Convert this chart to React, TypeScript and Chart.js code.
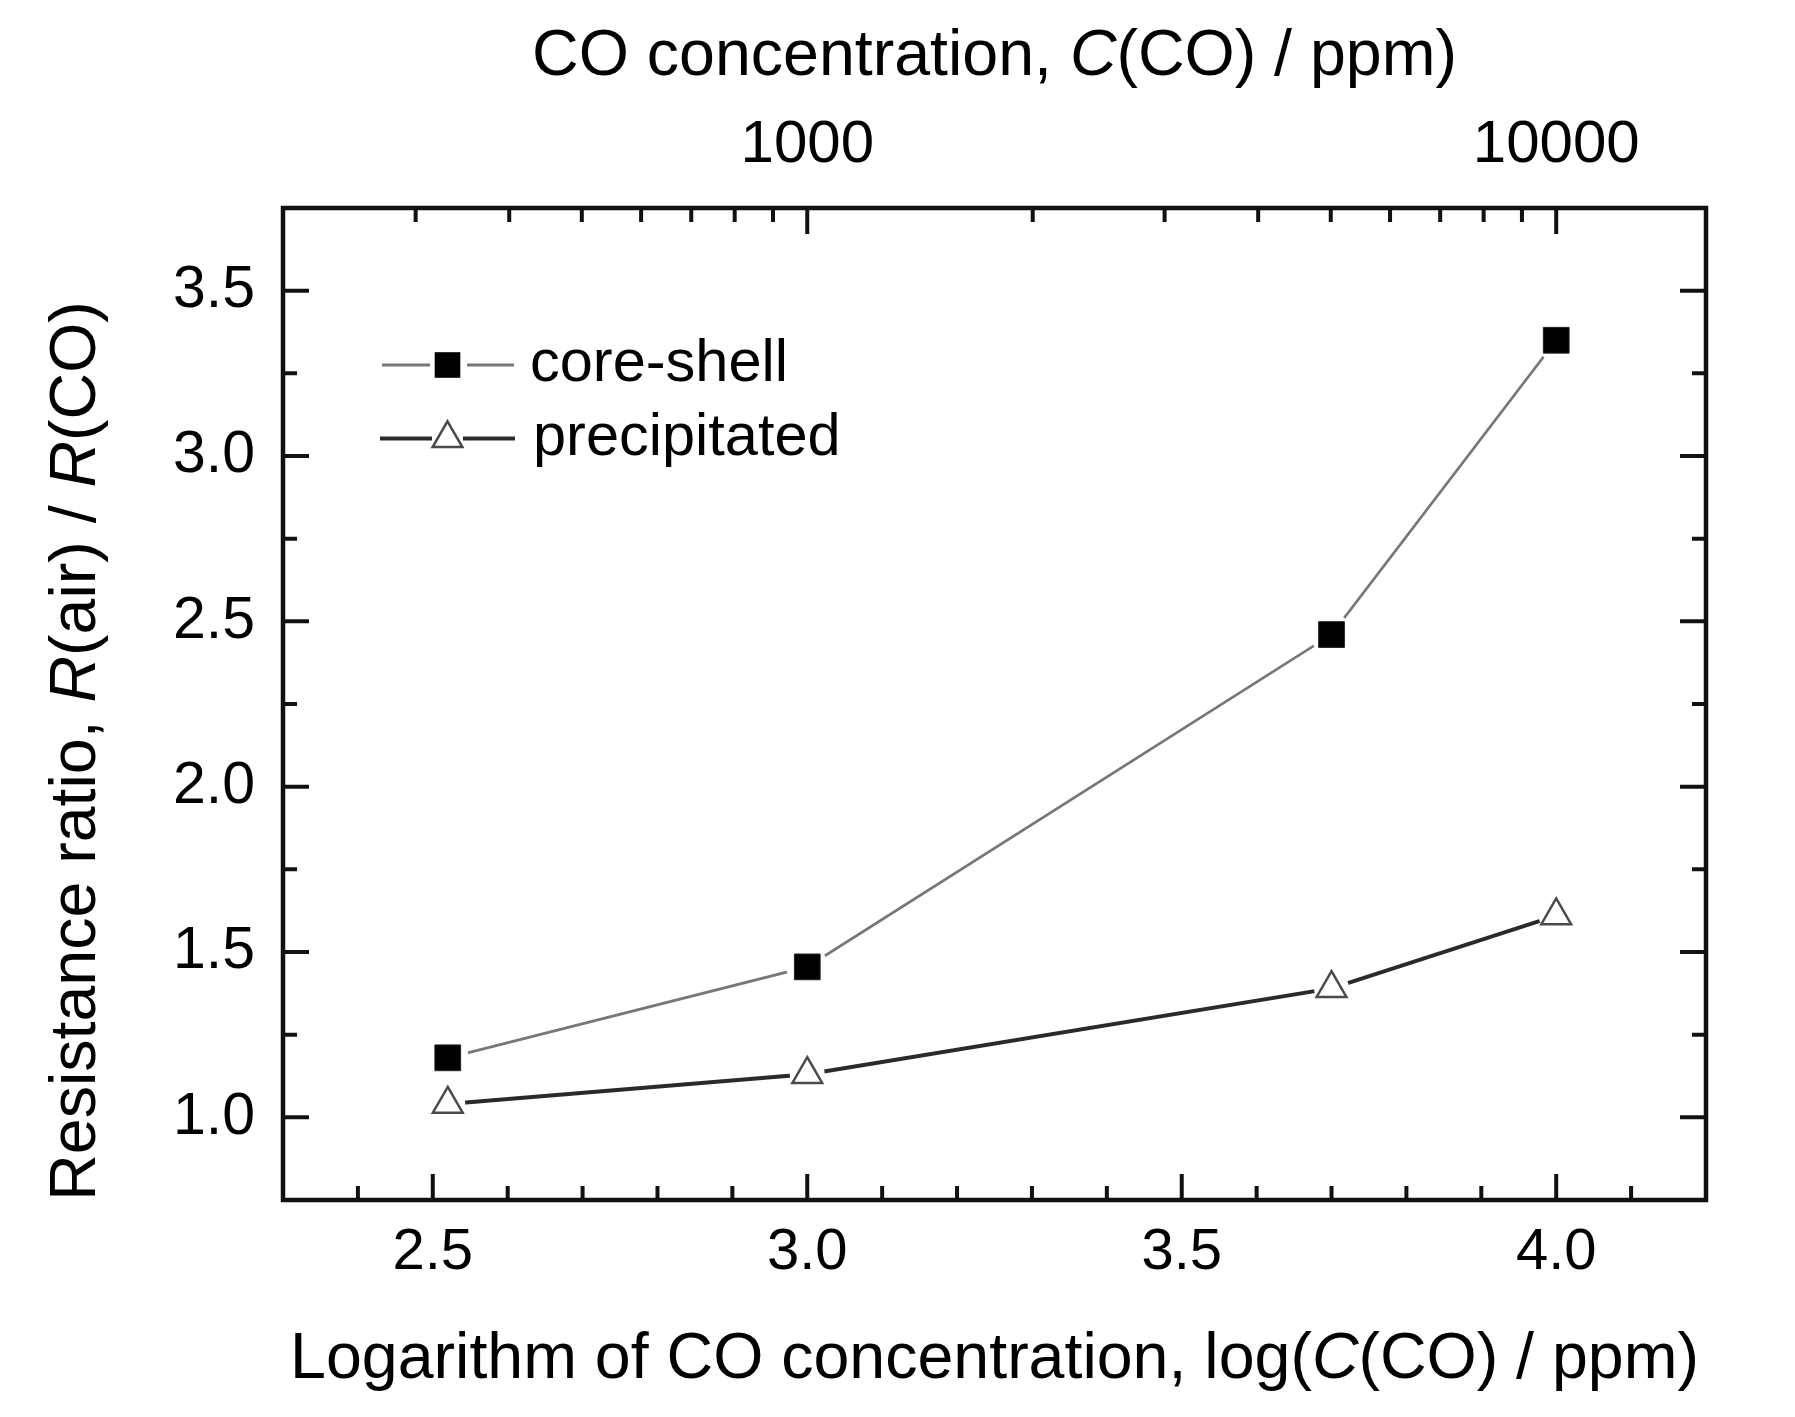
import React, { useEffect, useRef } from 'react';
import { Chart, registerables } from 'chart.js';

Chart.register(...registerables);

// ---------- data ----------
const logConcentration = [2.52, 3.0, 3.7, 4.0];
const coreShell = [1.18, 1.455, 2.46, 3.35];
const precipitated = [1.04, 1.13, 1.39, 1.61];

const xTicks = [2.5, 3.0, 3.5, 4.0];
const xMinorTicks = [2.4, 2.6, 2.7, 2.8, 2.9, 3.1, 3.2, 3.3, 3.4, 3.6, 3.7, 3.8, 3.9, 4.1];
const yTicks = [1.0, 1.5, 2.0, 2.5, 3.0, 3.5];
const yMinorTicks = [1.25, 1.75, 2.25, 2.75, 3.25];
const topTicks = [1000, 10000];
const topMinorTicks = [300, 400, 500, 600, 700, 800, 900, 2000, 3000, 4000, 5000, 6000, 7000, 8000, 9000];

const seriesLabels = ['core-shell', 'precipitated'];

const FONT = '"Liberation Sans", Arial, Helvetica, sans-serif';

const pts = (ys: number[]) => logConcentration.map((x, i) => ({ x, y: ys[i] }));

type Part = [string, boolean];

function drawRich(ctx: CanvasRenderingContext2D, parts: Part[], cx: number, y: number, size: number) {
  let total = 0;
  const widths: number[] = [];
  for (const [t, it] of parts) {
    ctx.font = `${it ? 'italic ' : ''}${size}px ${FONT}`;
    const w = ctx.measureText(t).width;
    widths.push(w);
    total += w;
  }
  let x = cx - total / 2;
  ctx.textAlign = 'left';
  ctx.textBaseline = 'alphabetic';
  parts.forEach(([t, it], i) => {
    ctx.font = `${it ? 'italic ' : ''}${size}px ${FONT}`;
    ctx.fillText(t, x, y);
    x += widths[i];
  });
}

const decorPlugin = {
  id: 'decor',
  afterDraw(chart: any) {
    const ctx: CanvasRenderingContext2D = chart.ctx;
    const { left, right, top, bottom } = chart.chartArea;
    const xs = chart.scales.x;
    const xt = chart.scales.x2;
    const ys = chart.scales.y;
    ctx.save();
    ctx.strokeStyle = '#111';
    ctx.lineCap = 'butt';
    ctx.lineWidth = 4;
    ctx.beginPath();
    const MAJ = 26;
    const MIN = 14;
    for (const v of xTicks) {
      const p = xs.getPixelForValue(v);
      ctx.moveTo(p, bottom); ctx.lineTo(p, bottom - MAJ);
    }
    for (const v of xMinorTicks) {
      const p = xs.getPixelForValue(v);
      ctx.moveTo(p, bottom); ctx.lineTo(p, bottom - MIN);
    }
    for (const v of topTicks) {
      const p = xt.getPixelForValue(v);
      ctx.moveTo(p, top); ctx.lineTo(p, top + MAJ);
    }
    for (const v of topMinorTicks) {
      const p = xt.getPixelForValue(v);
      ctx.moveTo(p, top); ctx.lineTo(p, top + MIN);
    }
    for (const v of yTicks) {
      const p = ys.getPixelForValue(v);
      ctx.moveTo(left, p); ctx.lineTo(left + MAJ, p);
      ctx.moveTo(right, p); ctx.lineTo(right - MAJ, p);
    }
    for (const v of yMinorTicks) {
      const p = ys.getPixelForValue(v);
      ctx.moveTo(left, p); ctx.lineTo(left + MIN, p);
      ctx.moveTo(right, p); ctx.lineTo(right - MIN, p);
    }
    ctx.stroke();
    ctx.lineWidth = 4.5;
    ctx.strokeRect(left, top, right - left, bottom - top);

    // titles
    ctx.fillStyle = '#000';
    const cx = (left + right) / 2;
    drawRich(ctx, [['CO concentration, ', false], ['C', true], ['(CO) / ppm)', false]], cx, 75, 64.5);
    drawRich(ctx, [['Logarithm of CO concentration, log(', false], ['C', true], ['(CO) / ppm)', false]], cx, 1378, 64.5);
    ctx.save();
    ctx.translate(95, 751);
    ctx.rotate(-Math.PI / 2);
    drawRich(ctx, [['Resistance ratio, ', false], ['R', true], ['(air) / ', false], ['R', true], ['(CO)', false]], 0, 0, 64.5);
    ctx.restore();

    // legend
    const lx = left;
    const r1 = top + 157;
    const r2 = top + 230.5;
    const mx = lx + 164.5;
    ctx.strokeStyle = '#777';
    ctx.lineWidth = 2.8;
    ctx.beginPath();
    ctx.moveTo(lx + 99, r1); ctx.lineTo(lx + 147, r1);
    ctx.moveTo(lx + 184, r1); ctx.lineTo(lx + 231, r1);
    ctx.stroke();
    ctx.fillStyle = '#000';
    ctx.fillRect(mx - 12.8, r1 - 12.8, 25.6, 25.6);

    ctx.strokeStyle = '#2a2a2a';
    ctx.lineWidth = 4;
    ctx.beginPath();
    ctx.moveTo(lx + 97, r2); ctx.lineTo(lx + 149, r2);
    ctx.moveTo(lx + 180, r2); ctx.lineTo(lx + 232, r2);
    ctx.stroke();
    const tr = 17.2;
    ctx.beginPath();
    ctx.moveTo(mx, r2 - tr);
    ctx.lineTo(mx + 0.866 * tr, r2 + 0.5 * tr);
    ctx.lineTo(mx - 0.866 * tr, r2 + 0.5 * tr);
    ctx.closePath();
    ctx.fillStyle = '#fff';
    ctx.fill();
    ctx.strokeStyle = '#4a4a4a';
    ctx.lineWidth = 2.5;
    ctx.stroke();

    ctx.fillStyle = '#000';
    ctx.font = `59.5px ${FONT}`;
    ctx.textAlign = 'left';
    ctx.textBaseline = 'middle';
    ctx.fillText(seriesLabels[0], lx + 247, r1);
    ctx.fillText(seriesLabels[1], lx + 250, r2);
    ctx.restore();
  },
};

export default function App() {
  const ref = useRef<HTMLCanvasElement>(null);
  useEffect(() => {
    if (!ref.current) return;
    const chart = new Chart(ref.current, {
      type: 'scatter',
      data: {
        datasets: [
          {
            label: seriesLabels[0] + ' markers',
            data: pts(coreShell),
            showLine: false,
            pointStyle: 'rect',
            pointRadius: 18.2,
            pointBackgroundColor: '#000',
            pointBorderColor: '#222',
            pointBorderWidth: 1,
          },
          {
            label: seriesLabels[1] + ' markers',
            data: pts(precipitated),
            showLine: false,
            pointStyle: 'triangle',
            pointRadius: 17.2,
            pointBackgroundColor: '#fff',
            pointBorderColor: '#4a4a4a',
            pointBorderWidth: 2.5,
          },
          {
            label: 'halo1',
            data: pts(coreShell),
            showLine: false,
            pointStyle: 'circle',
            pointRadius: 21,
            pointBackgroundColor: '#fff',
            pointBorderWidth: 0,
          },
          {
            label: 'halo2',
            data: pts(precipitated),
            showLine: false,
            pointStyle: 'circle',
            pointRadius: 17.5,
            pointBackgroundColor: '#fff',
            pointBorderWidth: 0,
          },
          {
            label: seriesLabels[0],
            data: pts(coreShell),
            showLine: true,
            borderColor: '#777',
            borderWidth: 2.8,
            pointRadius: 0,
            tension: 0,
          },
          {
            label: seriesLabels[1],
            data: pts(precipitated),
            showLine: true,
            borderColor: '#2a2a2a',
            borderWidth: 4,
            pointRadius: 0,
            tension: 0,
          },
        ],
      },
      options: {
        responsive: false,
        animation: false,
        events: [],
        devicePixelRatio: 1,
        layout: { padding: { left: 0, top: 0, right: 89, bottom: 0 } },
        plugins: { legend: { display: false }, tooltip: { enabled: false }, title: { display: false } },
        scales: {
          x: {
            type: 'linear',
            position: 'bottom',
            min: 2.3,
            max: 4.2,
            afterBuildTicks: (s: any) => {
              s.ticks = xTicks.map((v) => ({ value: v }));
              s.min = 2.3;
              s.max = 4.2;
            },
            afterFit: (s: any) => { s.height = 217; },
            ticks: {
              callback: (v: any) => Number(v).toFixed(1),
              font: { family: FONT, size: 58, lineHeight: 1 },
              color: '#000',
              padding: 24,
              maxRotation: 0,
              autoSkip: false,
            },
            grid: { display: false, drawTicks: false },
            border: { display: false },
          },
          x2: {
            type: 'logarithmic',
            position: 'top',
            min: Math.pow(10, 2.3),
            max: Math.pow(10, 4.2),
            afterBuildTicks: (s: any) => {
              s.ticks = topTicks.map((v) => ({ value: v }));
              s.min = Math.pow(10, 2.3);
              s.max = Math.pow(10, 4.2);
            },
            afterFit: (s: any) => { s.height = 208; },
            ticks: {
              callback: (v: any) => String(v),
              font: { family: FONT, size: 60, lineHeight: 1 },
              color: '#000',
              padding: 33,
              maxRotation: 0,
              autoSkip: false,
            },
            grid: { display: false, drawTicks: false },
            border: { display: false },
          },
          y: {
            type: 'linear',
            position: 'left',
            min: 0.75,
            max: 3.75,
            afterBuildTicks: (s: any) => {
              s.ticks = yTicks.map((v) => ({ value: v }));
              s.min = 0.75;
              s.max = 3.75;
            },
            afterFit: (s: any) => { s.width = 283; },
            ticks: {
              callback: (v: any) => Number(v).toFixed(1),
              font: { family: FONT, size: 59, lineHeight: 1 },
              color: '#000',
              padding: 28,
              autoSkip: false,
            },
            grid: { display: false, drawTicks: false },
            border: { display: false },
          },
        },
      } as any,
      plugins: [decorPlugin],
    });
    return () => chart.destroy();
  }, []);
  return (
    <div style={{ position: 'absolute', left: 0, top: 0, width: 1795, height: 1417, background: '#fff' }}>
      <canvas ref={ref} width={1795} height={1417} style={{ display: 'block' }} />
    </div>
  );
}
